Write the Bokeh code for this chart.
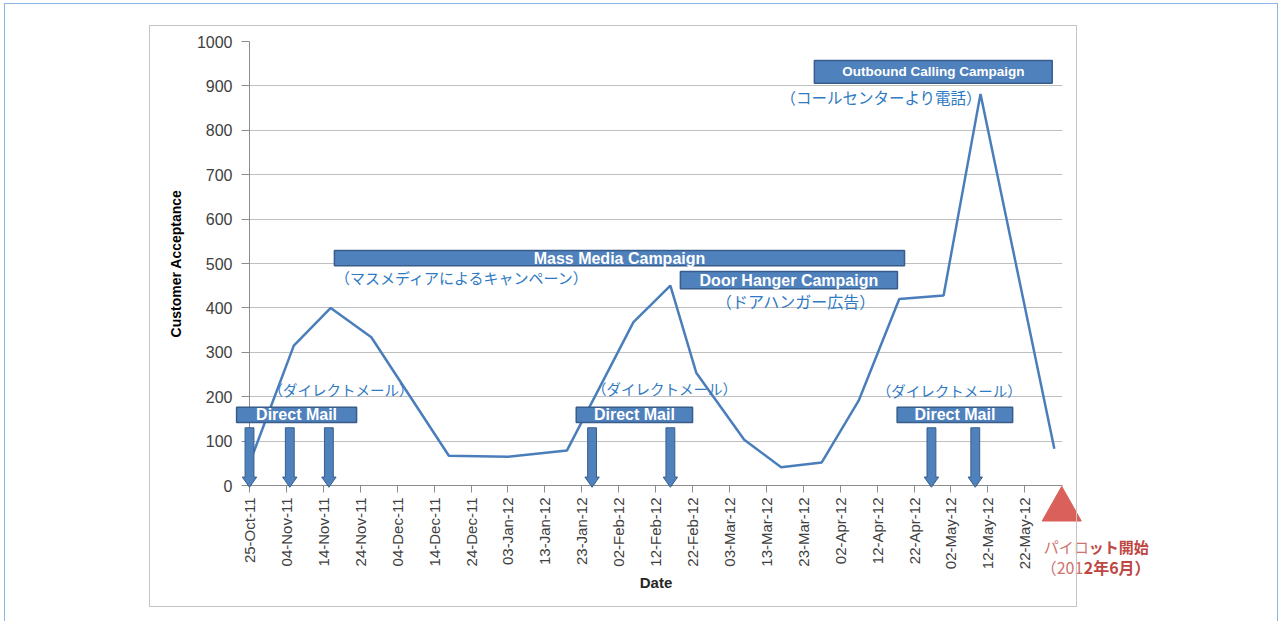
import math
import pandas as pd
from bokeh.plotting import figure
from bokeh.models import (Range1d, FixedTicker, DatetimeTickFormatter, ColumnDataSource,
                          InlineStyleSheet)
from bokeh.core.properties import value
from bokeh.embed import file_html
from bokeh.resources import INLINE

# ---------------- data ----------------
acceptance_dates = ["2011-10-25", "2011-11-06", "2011-11-16", "2011-11-27", "2011-12-18",
                    "2012-01-03", "2012-01-19", "2012-02-06", "2012-02-16", "2012-02-23",
                    "2012-03-07", "2012-03-17", "2012-03-28", "2012-04-07", "2012-04-18",
                    "2012-04-30", "2012-05-10", "2012-05-30"]
acceptance_values = [50, 315, 400, 334, 67, 65, 79, 368, 450, 254,
                     103, 41, 52, 191, 420, 428, 882, 83]

tick_dates = ["2011-10-25", "2011-11-04", "2011-11-14", "2011-11-24", "2011-12-04",
              "2011-12-14", "2011-12-24", "2012-01-03", "2012-01-13", "2012-01-23",
              "2012-02-02", "2012-02-12", "2012-02-22", "2012-03-03", "2012-03-13",
              "2012-03-23", "2012-04-02", "2012-04-12", "2012-04-22", "2012-05-02",
              "2012-05-12", "2012-05-22"]
y_ticks = [0, 100, 200, 300, 400, 500, 600, 700, 800, 900, 1000]

mail_drop_dates = ["2011-10-25", "2011-11-04 22:00", "2011-11-15 12:00", "2012-01-25 19:00",
                   "2012-02-16", "2012-04-26 17:00", "2012-05-08 14:00"]

campaign_names = ["Direct Mail", "Direct Mail", "Direct Mail", "Mass Media Campaign",
                  "Door Hanger Campaign", "Outbound Calling Campaign"]
campaign_start = ["2011-10-21 12:00", "2012-01-21 12:00", "2012-04-17 10:00",
                  "2011-11-17", "2012-02-18 17:00", "2012-03-26"]
campaign_end = ["2011-11-23", "2012-02-22", "2012-05-18 17:00",
                "2012-04-19 10:00", "2012-04-17 12:00", "2012-05-29 10:00"]

note_texts = ["（ダイレクトメール）", "（マスメディアによるキャンペーン）", "（ダイレクトメール）",
              "（ドアハンガー広告）", "（ダイレクトメール）", "（コールセンターより電話）"]
note_dates = ["2011-11-18 19:00", "2011-12-21 17:00", "2012-02-14 10:00",
              "2012-03-21", "2012-05-01 12:00", "2012-04-13 02:00"]
note_values = [216, 468, 218, 416, 214, 875]

pilot_date = "2012-06-01"
pilot_text = ["パイロ", "ット開始", "（201", "2年6月）"]

# ---------------- helpers / styles ----------------
DAY = 86400000.0
def ms(s):
    return pd.Timestamp(s).value / 1e6

box_levels = [(142, 176), (142, 176), (142, 176), (495, 529), (443, 482), (906, 957)]
box_font = ["16px", "16px", "16px", "16px", "16px", "13.5px"]
note_font = ["14.5px", "15px", "14.5px", "16px", "14.5px", "15.5px"]

BLUE = "#4F81BD"
BLUE_EDGE = "#385D8A"
NOTE = "#2F7AC2"
RED = "#BE4743"

x_start = ms("2011-10-25")
x_end = ms("2012-06-01 05:00")

p = figure(width=1282, height=621, x_axis_type="datetime", output_backend="svg",
           toolbar_location=None, x_range=Range1d(x_start, x_end), y_range=Range1d(0, 1000),
           min_border_left=249, min_border_right=220, min_border_top=41, min_border_bottom=136)
p.outline_line_color = None
p.background_fill_color = "white"
p.border_fill_color = "white"

p.stylesheets = [InlineStyleSheet(css="""
:host { overflow: hidden; }
:host::before { content: ""; position: absolute; left: 4px; top: 3px; width: 1274px; height: 700px;
  border: 1.5px solid #8DB3E2; box-sizing: border-box; pointer-events: none; z-index: 100; }
:host::after { content: ""; position: absolute; left: 149px; top: 25px; width: 928px; height: 582px;
  border: 1.5px solid #C4C4C4; box-sizing: border-box; pointer-events: none; z-index: 100; }
""")]

# grid
p.xgrid.grid_line_color = None
p.ygrid.grid_line_color = "#BFBFBF"
p.ygrid.grid_line_width = 1.2

# y axis
p.yaxis.ticker = FixedTicker(ticks=y_ticks)
p.yaxis.axis_line_color = "#8C8C8C"
p.yaxis.major_tick_line_color = "#8C8C8C"
p.yaxis.minor_tick_line_color = None
p.yaxis.major_tick_in = 0
p.yaxis.major_tick_out = 8
p.yaxis.major_label_standoff = 9
p.yaxis.major_label_text_font = "Liberation Sans"
p.yaxis.major_label_text_font_size = "16px"
p.yaxis.major_label_text_color = "#404040"
p.yaxis.axis_label = "Customer Acceptance"
p.yaxis.axis_label_text_font = "Liberation Sans"
p.yaxis.axis_label_text_font_size = "14px"
p.yaxis.axis_label_text_font_style = "bold"
p.yaxis.axis_label_text_color = "black"
p.yaxis.axis_label_standoff = 10

# x axis
p.xaxis.ticker = FixedTicker(ticks=[ms(d) for d in tick_dates])
fmt = "%d-%b-%y"
p.xaxis.formatter = DatetimeTickFormatter(days=fmt, months=fmt, years=fmt, hours=fmt,
                                          minutes=fmt, seconds=fmt, milliseconds=fmt,
                                          microseconds=fmt, hourmin=fmt, minsec=fmt)
p.xaxis.major_label_orientation = math.pi / 2
p.xaxis.axis_line_color = "#8C8C8C"
p.xaxis.major_tick_line_color = "#8C8C8C"
p.xaxis.minor_tick_line_color = None
p.xaxis.major_tick_in = 0
p.xaxis.major_tick_out = 7
p.xaxis.major_label_standoff = 5
p.xaxis.major_label_text_font = "Liberation Sans"
p.xaxis.major_label_text_font_size = "15px"
p.xaxis.major_label_text_color = "#404040"
p.xaxis.axis_label = "Date"
p.xaxis.axis_label_text_font = "Liberation Sans"
p.xaxis.axis_label_text_font_size = "15px"
p.xaxis.axis_label_text_font_style = "bold"
p.xaxis.axis_label_text_color = "#262626"
p.xaxis.axis_label_standoff = 2

# data line
src = ColumnDataSource(dict(date=pd.to_datetime(acceptance_dates), value=acceptance_values))
p.line("date", "value", source=src, line_color="#4A7EBB", line_width=2.5)

# mail drop arrows
shaft_w, head_w = 1.2 * DAY, 1.95 * DAY
top_v, head_v, tip_v = 130, 19, -4
arrow_xs, arrow_ys = [], []
for d in mail_drop_dates:
    c = ms(d)
    arrow_xs.append([c - shaft_w, c + shaft_w, c + shaft_w, c + head_w, c, c - head_w, c - shaft_w])
    arrow_ys.append([top_v, top_v, head_v, head_v, tip_v, head_v, head_v])
p.patches(arrow_xs, arrow_ys, fill_color=BLUE, line_color=BLUE_EDGE, line_width=1, level="overlay")

# campaign boxes
lefts = [ms(s) for s in campaign_start]
rights = [ms(e) for e in campaign_end]
p.quad(left=lefts, right=rights, bottom=[b[0] for b in box_levels], top=[b[1] for b in box_levels],
       fill_color=BLUE, line_color=BLUE_EDGE, line_width=1.5, level="overlay")
for name, l, r, (lo, hi), fs in zip(campaign_names, lefts, rights, box_levels, box_font):
    p.text(x=[(l + r) / 2], y=[(lo + hi) / 2], text=[name], text_align="center",
           text_baseline="middle", text_color="white", text_font=value("Liberation Sans"),
           text_font_style="bold", text_font_size=value(fs), level="overlay")

# notes
for t, d, v, fs in zip(note_texts, note_dates, note_values, note_font):
    p.text(x=[ms(d)], y=[v], text=[t], text_align="center", text_baseline="middle",
           text_color=NOTE, text_font=value("Noto Sans CJK JP"), text_font_size=value(fs),
           level="overlay")

# pilot marker
pc = ms(pilot_date)
p.patch([pc - 5.3 * DAY, pc + 5.3 * DAY, pc], [-80, -80, -2],
        fill_color="#D9605B", line_color="#D9605B", level="overlay")
pilot_specs = [(pilot_text[0], -137, -18, "normal", "#D0726E", "15px"),
               (pilot_text[1], -137, 27, "bold", RED, "15px"),
               (pilot_text[2], -184, -21, "normal", "#D0726E", "16px"),
               (pilot_text[3], -184, 22, "bold", RED, "16px")]
for t, yv, xo, st, col, fs in pilot_specs:
    p.text(x=[pc], y=[yv], text=[t], x_offset=xo, text_align="left", text_baseline="middle",
           text_color=col, text_font=value("Noto Sans CJK JP"), text_font_size=value(fs),
           text_font_style=st, level="overlay")

open("out.html", "w").write(file_html(p, INLINE))
